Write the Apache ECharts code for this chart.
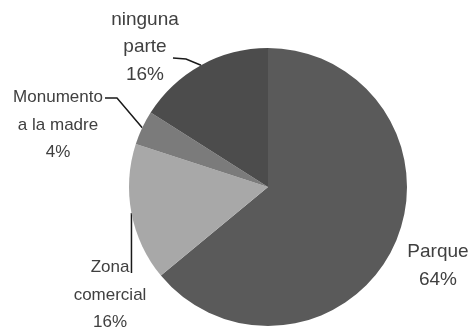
<!DOCTYPE html>
<html>
<head>
<meta charset="utf-8">
<script src="https://cdn.jsdelivr.net/npm/echarts@6/dist/echarts.min.js"></script>
<style>
html,body{margin:0;padding:0;background:#fff;}
#chart{width:471px;height:333px;}
</style>
</head>
<body>
<div id="chart"></div>
<script>
// Data
const categories = ['Parque', 'Zona\ncomercial', 'Monumento\na la madre', 'ninguna\nparte'];
const values = [64, 16, 4, 16];

// Styling (separate from data)
const colors = ['#5a5a5a', '#a8a8a8', '#7b7b7b', '#4c4c4c'];
const labelSizes = [19, 17, 17, 19];
const labelPos = [[438, 266], [110, 295], [58, 125], [145, 47]];

const chart = echarts.init(document.getElementById('chart'), null, {renderer: 'canvas'});

const data = categories.map((c, i) => ({
  name: c,
  value: values[i],
  itemStyle: {color: colors[i]},
  label: {fontSize: labelSizes[i]},
  labelLine: {show: i !== 0}
}));

chart.setOption({
  animation: false,
  series: [{
    type: 'pie',
    center: [268, 187],
    radius: [0, 139],
    startAngle: 90,
    clockwise: true,
    data: data,
    label: {
      show: true,
      position: 'outside',
      formatter: p => p.name + '\n' + Math.round(p.percent) + '%',
      fontFamily: 'Liberation Sans',
      lineHeight: 27.5,
      color: '#404040',
      align: 'center',
      overflow: 'none'
    },
    labelLine: {
      show: true,
      lineStyle: {color: '#1a1a1a', width: 1.5}
    },
    labelLayout: function (params) {
      const i = params.dataIndex;
      const pos = labelPos[i];
      const res = {x: pos[0], y: pos[1], align: 'center', verticalAlign: 'middle'};
      const pts = params.labelLinePoints;
      if (pts && i !== 0) {
        const p0 = pts[0];
        if (i === 3) res.labelLinePoints = [p0, [186, 59], [173, 58]];
        if (i === 2) res.labelLinePoints = [p0, [117, 98], [105, 98]];
        if (i === 1) res.labelLinePoints = [p0, [p0[0], 244], [p0[0], 273]];
      }
      return res;
    },
    emphasis: {disabled: true}
  }]
});
</script>
</body>
</html>
